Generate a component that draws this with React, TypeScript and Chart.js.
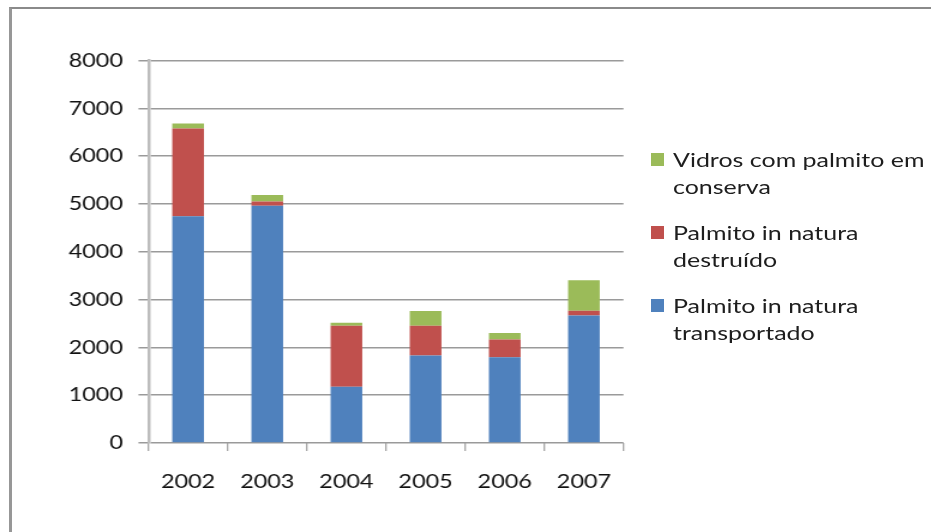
import { useEffect, useRef } from "react";
import { Chart, registerables } from "chart.js";

Chart.register(...registerables);

// Categories and stacked series (units apprehended per year)
const years = ["2002", "2003", "2004", "2005", "2006", "2007"];
const transportado = [4740, 4960, 1175, 1830, 1795, 2665];
const destruido = [1840, 90, 1275, 620, 370, 100];
const vidros = [100, 135, 65, 310, 135, 640];

const seriesNames = [
  "Palmito in natura transportado",
  "Palmito in natura destruído",
  "Vidros com palmito em conserva",
];
// Legend text broken into its two display lines, same order as seriesNames
const legendLines = [
  ["Palmito in natura", "transportado"],
  ["Palmito in natura", "destruído"],
  ["Vidros com palmito em", "conserva"],
];
const seriesColors = ["#4f81bd", "#c0504d", "#9bbb59"];

const yMin = 0;
const yMax = 8000;
const yStep = 1000;

// Layout (screen pixels)
const PAGE_W = 931;
const PAGE_H = 532;
const CANVAS_W = 776; // canvas is drawn narrower and stretched horizontally
const SX = PAGE_W / CANVAS_W;
const PLOT_LEFT = 148.5;
const PLOT_RIGHT = 623.5;
const PLOT_TOP = 60.5;
const PLOT_BOTTOM = 443;

const FONT = "Lato";

export default function App() {
  const canvasRef = useRef<HTMLCanvasElement | null>(null);

  useEffect(() => {
    const canvas = canvasRef.current;
    if (!canvas) return;
    const values = [transportado, destruido, vidros];
    const chart = new Chart(canvas, {
      type: "bar",
      data: {
        labels: years,
        datasets: values.map((v, i) => ({
          label: seriesNames[i],
          data: v,
          backgroundColor: seriesColors[i],
          borderWidth: 0,
          barPercentage: 0.4,
          categoryPercentage: 1.0,
        })),
      },
      options: {
        responsive: false,
        animation: false,
        devicePixelRatio: 1,
        layout: {
          padding: {
            left: 0,
            top: PLOT_TOP,
            right: CANVAS_W - PLOT_RIGHT / SX,
            bottom: 0,
          },
        },
        plugins: {
          legend: { display: false },
          tooltip: { enabled: false },
        },
        scales: {
          x: {
            stacked: true,
            grid: {
              display: true,
              drawOnChartArea: false,
              drawTicks: true,
              tickLength: 8,
              color: "#a8a8a8",
              lineWidth: 1.6 / SX,
            },
            border: { display: false },
            ticks: {
              font: { family: FONT, size: 19.5 },
              color: "#111111",
              padding: 19,
            },
            afterFit: (s: any) => {
              s.height = PAGE_H - PLOT_BOTTOM;
            },
          },
          y: {
            stacked: true,
            min: yMin,
            max: yMax,
            ticks: {
              stepSize: yStep,
              font: { family: FONT, size: 19.5 },
              color: "#111111",
              padding: 13,
              callback: (v: any) => String(v),
            },
            grid: {
              color: "#9a9a9a",
              lineWidth: 1.5,
              tickLength: 10 / SX,
            },
            border: { display: true, color: "#bdbdbd", width: 2.5 },
            afterFit: (s: any) => {
              s.width = PLOT_LEFT / SX;
            },
          },
        },
      },
    });
    return () => chart.destroy();
  }, []);

  const legendOrder = [2, 1, 0];

  return (
    <div
      style={{
        position: "fixed",
        left: 0,
        top: 0,
        width: PAGE_W,
        height: PAGE_H,
        background: "#ffffff",
        overflow: "hidden",
      }}
    >
      <div
        style={{
          position: "absolute",
          left: 9,
          top: 7,
          width: PAGE_W,
          height: PAGE_H,
          borderTop: "2px solid #8a8a8a",
          borderLeft: "3px solid #979797",
        }}
      />
      <div
        style={{
          position: "absolute",
          left: 0,
          top: 0,
          width: CANVAS_W,
          height: PAGE_H,
          transform: `scaleX(${SX})`,
          transformOrigin: "0 0",
        }}
      >
        <canvas ref={canvasRef} width={CANVAS_W} height={PAGE_H} />
      </div>
      {legendOrder.map((si, i) => (
        <div key={si}>
          <div
            style={{
              position: "absolute",
              left: 651,
              top: 153 + i * 73,
              width: 13,
              height: 13,
              background: seriesColors[si],
            }}
          />
          <div
            style={{
              position: "absolute",
              left: 673,
              top: 153 + i * 73 - 7.3,
              transform: "scaleX(1.28)",
              transformOrigin: "0 0",
              fontFamily: FONT,
              fontSize: 19.5,
              lineHeight: "27.5px",
              whiteSpace: "nowrap",
              color: "#1e1e1e",
            }}
          >
            {legendLines[si].map((line) => (
              <div key={line}>{line}</div>
            ))}
          </div>
        </div>
      ))}
    </div>
  );
}
